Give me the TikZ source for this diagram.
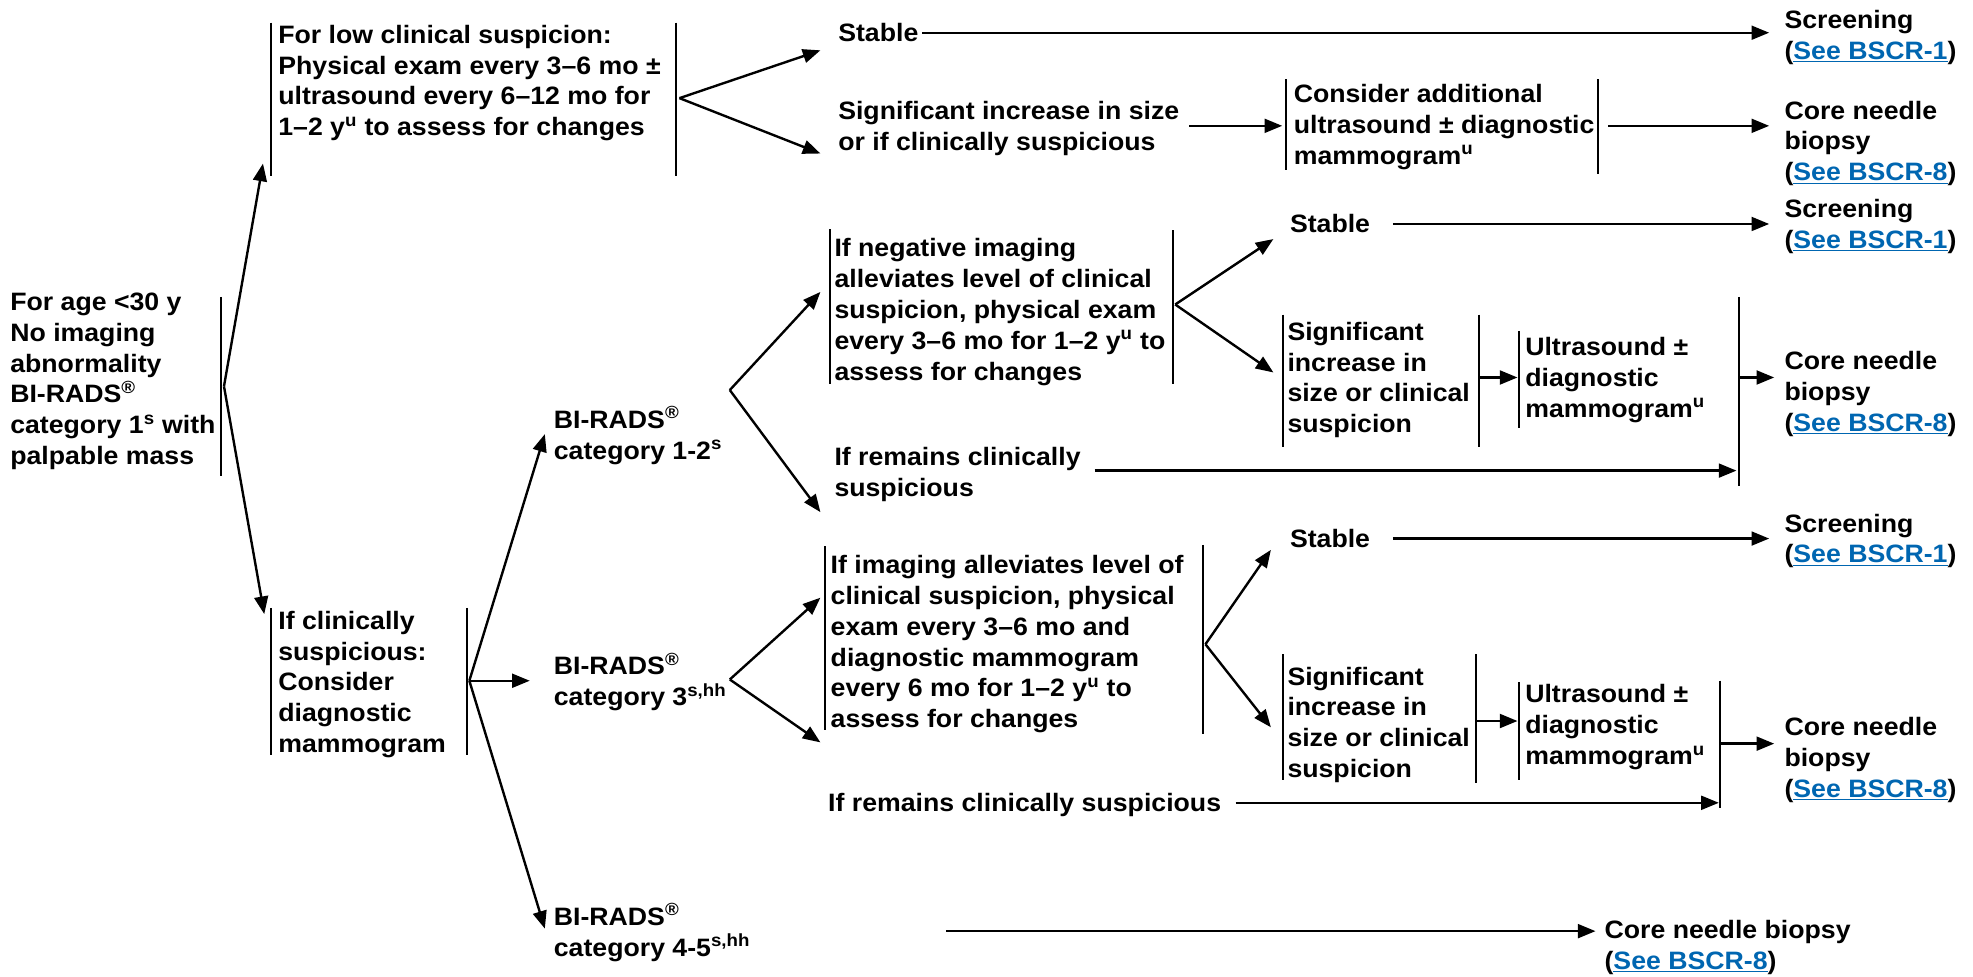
\documentclass[tikz,border=0pt]{standalone}
\usepackage{fontspec}
\setmainfont{Liberation Sans}[FakeStretch=1.06]
\usetikzlibrary{arrows.meta}
\definecolor{linkblue}{RGB}{0,102,177}

\tikzset{
  txt/.style={anchor=west, align=left, inner sep=0pt,
    font=\fontsize{20}{24.5}\selectfont\bfseries},
  bar/.style={line width=1.6pt},
  arr/.style={line width=1.9pt, -{Triangle[length=14pt,width=11pt]}}
}
\newcommand\seelink[1]{(\textcolor{linkblue}{\underline{#1}})}
\newcommand\sups[1]{\textsuperscript{#1}}

\begin{document}
\begin{tikzpicture}[x=1pt,y=-1pt]
\useasboundingbox (0,0) rectangle (1568,776);

% ---- text blocks ----
\node[txt] (root) at (8,303) {For age <30 y\\No imaging\\abnormality\\BI-RADS\sups{®}\\category 1\sups{s} with\\palpable mass};
\node[txt] (low) at (221,66) {For low clinical suspicion:\\Physical exam every 3–6 mo ±\\ultrasound every 6–12 mo for\\1–2 y\sups{u} to assess for changes};
\node[txt] (stA) at (666,26) {Stable};
\node[txt] (sigA) at (666,102) {Significant increase in size\\or if clinically suspicious};
\node[txt] (cons) at (1028,101) {Consider additional\\ultrasound ± diagnostic\\mammogram\sups{u}};
\node[txt] (scrA) at (1418,30) {Screening\\\seelink{See BSCR-1}};
\node[txt] (cnbA) at (1418,114) {Core needle\\biopsy\\\seelink{See BSCR-8}};

\node[txt] (clin) at (221,544) {If clinically\\suspicious:\\Consider\\diagnostic\\mammogram};

\node[txt] (brA) at (440,346) {BI-RADS\sups{®}\\category 1-2\sups{s}};
\node[txt] (neg) at (663,248) {If negative imaging\\alleviates level of clinical\\suspicion, physical exam\\every 3–6 mo for 1–2 y\sups{u} to\\assess for changes};
\node[txt] (stB) at (1025,178) {Stable};
\node[txt] (scrB) at (1418,180) {Screening\\\seelink{See BSCR-1}};
\node[txt] (sigB) at (1023,302) {Significant\\increase in\\size or clinical\\suspicion};
\node[txt] (usB) at (1212,302) {Ultrasound ±\\diagnostic\\mammogram\sups{u}};
\node[txt] (cnbB) at (1418,313) {Core needle\\biopsy\\\seelink{See BSCR-8}};
\node[txt] (remB) at (663,377) {If remains clinically\\suspicious};

\node[txt] (brB) at (440,542) {BI-RADS\sups{®}\\category 3\sups{s,hh}};
\node[txt] (img) at (660,512) {If imaging alleviates level of\\clinical suspicion, physical\\exam every 3–6 mo and\\diagnostic mammogram\\every 6 mo for 1–2 y\sups{u} to\\assess for changes};
\node[txt] (stC) at (1025,428) {Stable};
\node[txt] (scrC) at (1418,430) {Screening\\\seelink{See BSCR-1}};
\node[txt] (sigC) at (1023,576) {Significant\\increase in\\size or clinical\\suspicion};
\node[txt] (usC) at (1212,578) {Ultrasound ±\\diagnostic\\mammogram\sups{u}};
\node[txt] (cnbC) at (1418,604) {Core needle\\biopsy\\\seelink{See BSCR-8}};
\node[txt] (remC) at (658,640) {If remains clinically suspicious};

\node[txt] (brC) at (440,741) {BI-RADS\sups{®}\\category 4-5\sups{s,hh}};
\node[txt] (cnbD) at (1275,753) {Core needle biopsy\\\seelink{See BSCR-8}};

% ---- side bars of the text blocks ----
\draw[bar] (176,236) -- (176,378);
\draw[bar] (215,18) -- (215,140);   \draw[bar] (537,18) -- (537,140);
\draw[bar] (1022,63) -- (1022,135); \draw[bar] (1270,63) -- (1270,138);
\draw[bar] (215,483) -- (215,600);  \draw[bar] (371,483) -- (371,600);
\draw[bar] (660,182) -- (660,305);  \draw[bar] (932,183) -- (932,305);
\draw[bar] (1020,250) -- (1020,355); \draw[bar] (1175,250) -- (1175,355);
\draw[bar] (1207,263) -- (1207,340); \draw[bar] (1382,236) -- (1382,386);
\draw[bar] (656,434) -- (656,580);  \draw[bar] (956,433) -- (956,583);
\draw[bar] (1020,520) -- (1020,620); \draw[bar] (1173,520) -- (1173,622);
\draw[bar] (1207,542) -- (1207,620); \draw[bar] (1367,541) -- (1367,642);

% ---- fork points and arrow ends ----
\coordinate (fRoot) at (178,307);
\coordinate (tLow) at (209,130);
\coordinate (tClin) at (210,488);
\coordinate (fLow) at (540,78);
\coordinate (tStA) at (652,40);
\coordinate (tSigA) at (652,122);
\coordinate (fClin) at (373,541);
\coordinate (tBrA) at (433,345);
\coordinate (tBrB) at (421,541);
\coordinate (tBrC) at (433,738);
\coordinate (fBrA) at (580,310);
\coordinate (tNeg) at (652,232);
\coordinate (tRemB) at (652,407);
\coordinate (fNeg) at (934,242);
\coordinate (tStB) at (1012,190);
\coordinate (tSigB) at (1012,296);
\coordinate (fBrB) at (580,540);
\coordinate (tImg) at (652,475);
\coordinate (tRemC) at (652,590);
\coordinate (fImg) at (958,512);
\coordinate (tStC) at (1010,437);
\coordinate (tSigC) at (1010,578);

% ---- connectors ----
\draw[arr] (fRoot) -- (tLow);
\draw[arr] (fRoot) -- (tClin);
\draw[arr] (fLow) -- (tStA);
\draw[arr] (fLow) -- (tSigA);
\draw[arr] (733,26) -- (1406,26);
\draw[arr] (945,100) -- (1019,100);
\draw[arr] (1278,100) -- (1406,100);

\draw[arr] (fClin) -- (tBrA);
\draw[arr] (fClin) -- (tBrB);
\draw[arr] (fClin) -- (tBrC);

\draw[arr] (fBrA) -- (tNeg);
\draw[arr] (fBrA) -- (tRemB);
\draw[arr] (fNeg) -- (tStB);
\draw[arr] (fNeg) -- (tSigB);
\draw[arr] (1107,178) -- (1406,178);
\draw[arr] (1175,300) -- (1206,300);
\draw[arr] (1382,300) -- (1410,300);
\draw[arr] (870,374) -- (1380,374);

\draw[arr] (fBrB) -- (tImg);
\draw[arr] (fBrB) -- (tRemC);
\draw[arr] (fImg) -- (tStC);
\draw[arr] (fImg) -- (tSigC);
\draw[arr] (1107,428) -- (1406,428);
\draw[arr] (1173,573) -- (1206,573);
\draw[arr] (1367,591) -- (1410,591);
\draw[arr] (982,638) -- (1366,638);

\draw[arr] (752,740) -- (1268,740);
\end{tikzpicture}
\end{document}
